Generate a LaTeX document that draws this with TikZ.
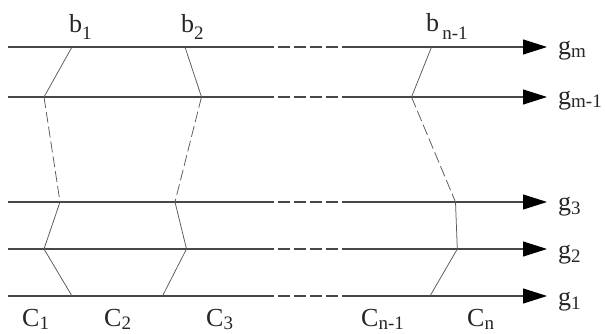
\documentclass[tikz,border=0pt]{standalone}
\usepackage{fontspec}
\setmainfont{Liberation Serif}
\usetikzlibrary{arrows.meta}
\newcommand\sublab[3]{#1\raisebox{-#3pt}{\fontsize{19}{19}\selectfont #2}}
\begin{document}
\begin{tikzpicture}[x=1pt,y=-1pt,
  hline/.style={line width=1.1pt,draw=black!72},
  hdash/.style={hline,dash pattern=on 12pt off 4pt},
  harrow/.style={hline,-{Triangle[length=24pt,width=15pt,color=black,fill=black]}},
  zig/.style={line width=0.75pt,draw=black!65},
  zigdash/.style={zig,dash pattern=on 11pt off 4pt},
  lab/.style={inner sep=0pt,font=\fontsize{26}{26}\selectfont,text=black!85}]
\useasboundingbox (0,0) rectangle (605,334);
\fill[white] (0,0) rectangle (605,334);
% horizontal lines
\foreach \n/\y in {m/47,mm/97,c/202,b/249,a/296}{
  \coordinate (L\n-s) at (8,\y);
  \coordinate (L\n-d1) at (262,\y);
  \coordinate (L\n-d2) at (343,\y);
  \coordinate (L\n-e) at (547,\y);
  \draw[hline] (L\n-s) -- (L\n-d1);
  \draw[hdash] (L\n-d1) -- (L\n-d2);
  \draw[harrow] (L\n-d2) -- (L\n-e);
}
% boundary 1
\coordinate (P1a) at (72,47);
\coordinate (P1b) at (44,97);
\coordinate (P1c) at (60,202);
\coordinate (P1d) at (44,249);
\coordinate (P1e) at (72,296);
% boundary 2
\coordinate (P2a) at (185,47);
\coordinate (P2b) at (201.5,97);
\coordinate (P2c) at (175,202);
\coordinate (P2d) at (186.5,249);
\coordinate (P2e) at (162.5,296);
% boundary n-1
\coordinate (P3a) at (431.5,47);
\coordinate (P3b) at (411.5,97);
\coordinate (P3c) at (455.5,202);
\coordinate (P3d) at (457.3,249);
\coordinate (P3e) at (430,296);
\foreach \k in {1,2,3}{
  \draw[zig] (P\k a) -- (P\k b);
  \draw[zigdash] (P\k b) -- (P\k c);
  \draw[zig] (P\k c) -- (P\k d) -- (P\k e);
}
% top labels
\node[lab,anchor=base west] (b1) at (69,33) {\sublab{b}{1}{7}};
\node[lab,anchor=base west] (b2) at (181,33) {\sublab{b}{2}{7}};
\node[lab,anchor=base west] (bn) at (426,32) {\sublab{b}{\,n-1}{8}};
% right labels
\node[lab,anchor=base west] (gm) at (558,54.5) {\sublab{g}{m}{3}};
\node[lab,anchor=base west] (gmm) at (558,104.5) {\sublab{g}{m-1}{3}};
\node[lab,anchor=base west] (g3) at (558,210) {\sublab{g}{3}{4}};
\node[lab,anchor=base west] (g2) at (558,258) {\sublab{g}{2}{4}};
\node[lab,anchor=base west] (g1) at (558,305) {\sublab{g}{1}{4}};
% bottom labels
\node[lab,anchor=base west] (c1) at (22,326) {\sublab{C}{1}{3.5}};
\node[lab,anchor=base west] (c2) at (104,326) {\sublab{C}{2}{3.5}};
\node[lab,anchor=base west] (c3) at (206,326) {\sublab{C}{3}{3.5}};
\node[lab,anchor=base west] (cn1) at (361,326) {\sublab{C}{n-1}{3.5}};
\node[lab,anchor=base west] (cn) at (467,326) {\sublab{C}{n}{3.5}};
\end{tikzpicture}
\end{document}
